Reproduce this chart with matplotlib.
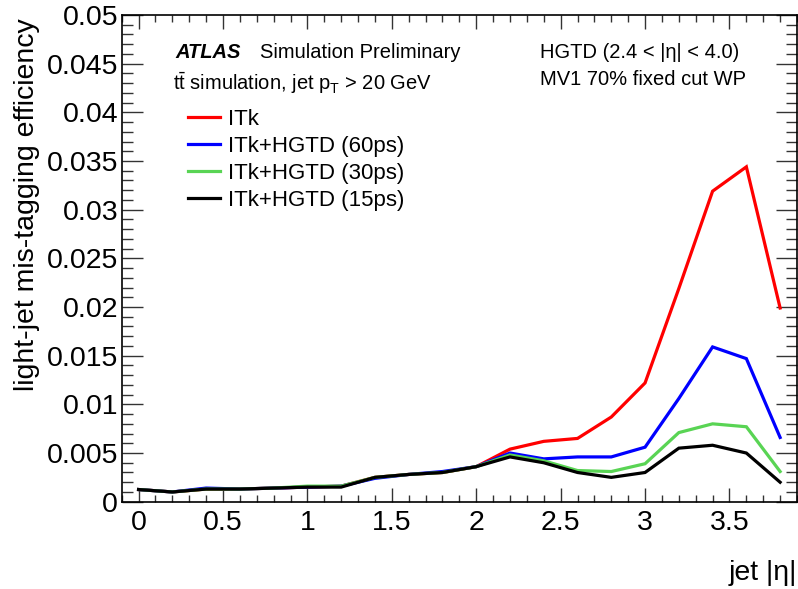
import numpy as np
import matplotlib
matplotlib.use('Agg')
import matplotlib.pyplot as plt
from matplotlib.ticker import MultipleLocator, FuncFormatter

plt.rcParams['font.family'] = ['Liberation Sans', 'DejaVu Sans']
plt.rcParams['mathtext.fontset'] = 'custom'
plt.rcParams['mathtext.rm'] = 'Liberation Sans'
plt.rcParams['mathtext.it'] = 'Liberation Sans:italic'

# jet |eta| bin centres
eta = [0.0, 0.2, 0.4, 0.6, 0.8, 1.0, 1.2, 1.4, 1.6, 1.8,
       2.0, 2.2, 2.4, 2.6, 2.8, 3.0, 3.2, 3.4, 3.6, 3.8]

# light-jet mis-tagging efficiency per layout
itk = [0.00125, 0.0010, 0.0013, 0.0013, 0.0014, 0.0015, 0.0016, 0.0025, 0.0028, 0.0030,
       0.0036, 0.0054, 0.0062, 0.0065, 0.0087, 0.0122, 0.0219, 0.0319, 0.0344, 0.0199]
hgtd_60 = [0.00125, 0.0010, 0.0014, 0.0013, 0.0014, 0.0015, 0.0016, 0.0024, 0.0028, 0.0031,
           0.0036, 0.0050, 0.0044, 0.0046, 0.0046, 0.0056, 0.0106, 0.0159, 0.0147, 0.0066]
hgtd_30 = [0.00125, 0.0010, 0.0013, 0.0013, 0.0014, 0.0016, 0.0016, 0.0025, 0.0028, 0.0030,
           0.0036, 0.0048, 0.0042, 0.0032, 0.0031, 0.0039, 0.0071, 0.0080, 0.0077, 0.0031]
hgtd_15 = [0.00125, 0.0010, 0.0013, 0.0013, 0.0014, 0.0015, 0.0015, 0.0025, 0.0028, 0.0030,
           0.0036, 0.0046, 0.0040, 0.0030, 0.0025, 0.0030, 0.0055, 0.0058, 0.0050, 0.0020]

labels = ['ITk', 'ITk+HGTD (60ps)', 'ITk+HGTD (30ps)', 'ITk+HGTD (15ps)']
colors = ['#ff0000', '#0000ff', '#59d454', '#000000']

W, H = 798, 589
fig = plt.figure(figsize=(W / 100, H / 100), dpi=100)
ax = fig.add_axes([121.7 / W, 1 - 501.7 / H, (797 - 121.7) / W, (501.7 - 15) / H])

for ys, lab, c in zip([itk, hgtd_60, hgtd_30, hgtd_15], labels, colors):
    ax.plot(eta, ys, color=c, lw=2.3, label=lab, solid_joinstyle='miter')

ax.set_xlim(-0.1, 3.9)
ax.set_ylim(0, 0.05)

ax.xaxis.set_major_locator(MultipleLocator(0.5))
ax.xaxis.set_minor_locator(MultipleLocator(0.1))
ax.yaxis.set_major_locator(MultipleLocator(0.005))
ax.yaxis.set_minor_locator(MultipleLocator(0.001))
fmt = FuncFormatter(lambda v, p: '%g' % round(v, 4))
ax.xaxis.set_major_formatter(fmt)
ax.yaxis.set_major_formatter(fmt)

ax.tick_params(which='both', direction='in', top=True, right=True, width=1.0, color='#333333', labelsize=20.5)
ax.tick_params(axis='x', which='major', length=10, pad=6)
ax.tick_params(axis='x', which='minor', length=5)
ax.tick_params(axis='y', which='major', length=15, pad=2.5)
ax.tick_params(axis='y', which='minor', length=8)
for s in ax.spines.values():
    s.set_linewidth(1.2)

fig.text(27.5 / W, 1 - 18 / H, 'light-jet mis-tagging efficiency', rotation=90,
         ha='center', va='top', fontsize=20.5)
fig.text(797 / W, 1 - 573 / H, 'jet |η|', ha='right', va='center', fontsize=20.5)

fig.text(175 / W, 1 - 57.5 / H, 'ATLAS', fontsize=14.5, fontweight='bold', fontstyle='italic',
         ha='left', va='baseline')
fig.text(260 / W, 1 - 57.5 / H, 'Simulation Preliminary', fontsize=14.5, ha='left', va='baseline')
fig.text(173 / W, 1 - 90 / H, r'$\mathrm{t\bar{t}}$ simulation, jet $\mathrm{p_{T}}$ > 20 GeV',
         fontsize=14.5, ha='left', va='baseline')
fig.text(540 / W, 1 - 58 / H, 'HGTD (2.4 < |η| < 4.0)', fontsize=14.5, ha='left', va='baseline')
fig.text(540 / W, 1 - 85 / H, 'MV1 70% fixed cut WP', fontsize=14.5, ha='left', va='baseline')

ax.legend(loc='upper left', bbox_to_anchor=(188 / W, 1 - 109 / H), bbox_transform=fig.transFigure,
          frameon=False, fontsize=16, handlelength=1.45, handletextpad=0.36,
          labelspacing=0.27, borderpad=0, borderaxespad=0)

fig.savefig('out.png', dpi=100)
